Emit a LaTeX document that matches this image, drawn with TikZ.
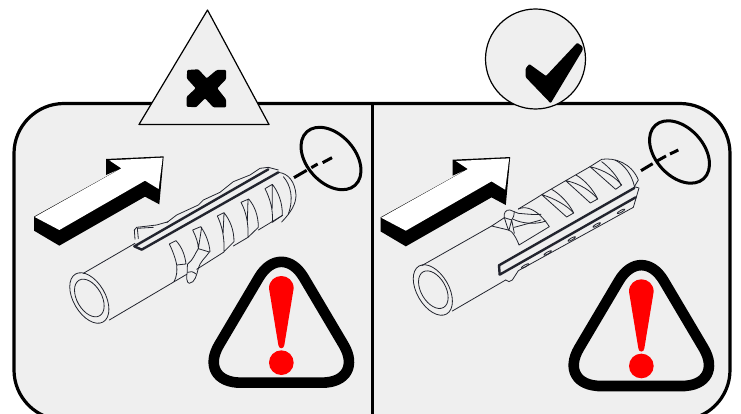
\documentclass[tikz,border=0pt]{standalone}
\definecolor{panel}{HTML}{EFEFEF}
\definecolor{ink}{HTML}{22242E}
\tikzset{
  zl/.style={shift={(20,140)},x=.33333pt,y=-.33333pt},
  zr/.style={shift={(375,120)},x=.33333pt,y=-.33333pt},
  thin ink/.style={draw=ink,line width=.8pt,line join=round,line cap=round},
  rail/.style={draw=ink,line width=2.4pt,line join=round,line cap=round},
  target/.style={draw=black,line width=3pt},
  dashpart/.style={draw=black,line width=3pt}
}
\newcommand{\warnsign}[2]{%
  \begin{scope}[shift={(#1,#2)},x=.33333pt,y=-.33333pt]
    \draw[line width=10.6pt,rounded corners=44pt,line join=round]
      (244,398) -- (-10,398) -- (244,-31) -- (498,398) -- cycle;
    \fill[red] (207,115) .. controls (207,92) and (225,78) .. (244,78)
      .. controls (263,78) and (281,92) .. (281,115)
      -- (253,285) .. controls (252,298) and (236,298) .. (235,285) -- cycle;
    \fill[red] (244,338) circle [radius=37];
  \end{scope}}
\newcommand{\bigarrow}[2]{%
  \begin{scope}[shift={(#1,#2)},x=.33333pt,y=-.33333pt]
    \fill[black] (42,230) -- (42,272) -- (118,317) -- (375,170) -- (418,193)
      -- (431,49) -- (258,57) -- (258,105) -- (303,85) -- cycle;
    \fill[white] (44,231) -- (304,85) -- (268,61) -- (428,53) -- (416,147)
      -- (375,122) -- (118,270) -- cycle;
  \end{scope}}
\begin{document}
\begin{tikzpicture}[x=1pt,y=-1pt]
\useasboundingbox (0,0) rectangle (741,414);
\begin{scope}
  \clip (0,0) rectangle (741,414);
  \draw[fill=panel,line width=3.2pt,rounded corners=50pt]
    (372,103.5) -- (730,103.5) -- (730,420) -- (14,420) -- (14,103.5) -- cycle;
  \draw[line width=3pt] (372,103.5) -- (372,414);
\end{scope}
% top symbols
\draw[fill=panel,line width=1.2pt,line join=round] (207.5,10) -- (269,124.5) -- (139,124.5) -- cycle;
\fill[rounded corners=1pt] (187.3,70) -- (198.3,69.3) -- (206.7,78.3) -- (216.7,70) -- (226,70)
  -- (226,79.3) -- (217.3,88.3) -- (226,99.3) -- (226,107.3) -- (213.3,107.3) -- (205,98.3)
  -- (196,107.3) -- (186.7,106.7) -- (186.7,96.7) -- (195.7,88.3) -- (186.7,78.3) -- cycle;
\draw[fill=panel,line width=1.2pt] (535.5,59) circle [radius=50];
\fill[rounded corners=1pt] (525.7,68.3) -- (529.3,64) -- (546,76) -- (577.3,42.7) -- (582.7,46.7)
  -- (582.7,50) -- (550.7,103.3) -- (525.7,77.3) -- cycle;
% arrows
\bigarrow{20}{140}
\bigarrow{366.5}{140.7}
% targets
\draw[target,shift={(331,158.5)},rotate=-48] (0,0) ellipse [x radius=36,y radius=24];
\draw[target,shift={(679.5,152)},rotate=-48] (0,0) ellipse [x radius=36,y radius=24];
% LEFT dowel
\begin{scope}[zl]
  \draw[dashpart] (822,113) -- (860,91) (874,83) -- (893,72) (908,68) -- (936,53);
  \draw[thin ink,shift={(208,474)},rotate=-60] (0,0) ellipse [x radius=83,y radius=48];
  \draw[thin ink,shift={(208,474)},rotate=-60] (0,0) ellipse [x radius=61.6,y radius=37];
  \draw[thin ink] (190,400) -- (345,310);
  \draw[thin ink] (268,540) -- (500,403) (530,388) -- (612,336) (640,318) -- (684,292) (715,270) -- (788,226);
  % head
  \draw[thin ink] (775,97) .. controls (805,100) and (825,125) .. (828,165)
     .. controls (828,190) and (815,215) .. (785,246);
  \draw[thin ink] (790,110) .. controls (812,135) and (822,175) .. (805,222);
  % wavy upper outline
  \draw[thin ink] (440,248) -- (470,225) -- (535,195) -- (550,180) -- (600,157) -- (640,125)
     -- (690,105) -- (720,85) -- (745,82) -- (775,90);
  % wing behind rail
  \draw[thin ink] (345,298) -- (343,270) -- (350,262) -- (410,255) -- (445,245);
  \draw[thin ink] (352,265) -- (355,296) (352,265) -- (400,262);
  % rail
  \draw[rail] (343,319) -- (745,88);
  \draw[rail] (343,319) -- (365,329) -- (775,97);
  % ribs
  \draw[thin ink] (448,312) -- (468,302) .. controls (485,320) and (495,345) .. (498,372) -- (470,375) (448,312) .. controls (458,332) and (468,360) .. (470,375) .. controls (472,395) and (470,410) .. (462,425);
  \draw[thin ink] (518,270) -- (542,260) .. controls (558,282) and (568,310) .. (570,335) (518,270) .. controls (528,290) and (535,310) .. (535,326) -- (568,336) (545,262) -- (535,326);
  \draw[thin ink] (592,228) -- (612,218) .. controls (630,240) and (642,270) .. (642,305) -- (612,335) (592,228) .. controls (605,255) and (614,290) .. (612,335) (612,220) -- (609,285);
  \draw[thin ink] (663,187) -- (686,177) .. controls (703,197) and (715,225) .. (715,262) -- (684,292) (663,187) .. controls (678,215) and (686,250) .. (684,292) (684,180) -- (682,245);
  \draw[thin ink] (735,146) -- (757,133) .. controls (775,155) and (788,190) .. (787,226) -- (757,247) (735,146) .. controls (750,175) and (760,210) .. (757,247) (757,135) -- (757,205);
  % wing tip
  \draw[thin ink] (503,372) .. controls (520,360) and (525,340) .. (535,326)
     (568,336) .. controls (555,355) and (540,365) .. (535,385) .. controls (530,405) and (525,428) .. (508,430)
     .. controls (500,430) and (498,410) .. (502,395) .. controls (503,385) and (500,378) .. (503,372);
  \draw[thin ink] (503,397) .. controls (510,392) and (520,395) .. (528,402);
\end{scope}
% RIGHT dowel
\begin{scope}[zr]
  \draw[dashpart] (798,152) -- (833,131) (846,123) -- (873,108) (885,102) -- (910,90);
  \draw[thin ink,shift={(173.5,510)},rotate=-60] (0,0) ellipse [x radius=83,y radius=48];
  \draw[thin ink,shift={(175,509)},rotate=-60] (0,0) ellipse [x radius=61.6,y radius=37];
  \draw[thin ink] (140,437) -- (350,318);
  \draw[thin ink] (232,573) -- (392,480);
  % lower outline
  \draw[thin ink] (392,480) -- (402,485) -- (412,480) -- (430,452) -- (775,262) -- (792,204) -- (778,200);
  \foreach \cx/\cy in {450/438,518/399,590/357,665/315,738/274}
    \draw[thin ink,shift={(\cx,\cy)},rotate=29] (0,0) ellipse [x radius=13,y radius=3];
  % rail
  \draw[rail] (372,436) -- (778,204);
  \draw[rail] (372,436) -- (374,464) -- (782,232);
  % head
  \draw[thin ink] (645,140) -- (680,118) .. controls (720,112) and (770,130) .. (790,180) -- (778,200);
  \draw[thin ink] (720,120) .. controls (750,135) and (770,165) .. (778,198);
  % ribs
  \draw[thin ink] (645,140) .. controls (690,150) and (725,175) .. (740,195) -- (722,208) -- (645,140);
  \draw[thin ink] (680,125) .. controls (700,140) and (725,165) .. (738,195);
  \draw[thin ink] (645,140) -- (572,182) .. controls (615,190) and (650,215) .. (668,237) -- (646,249) -- (572,182);
  \draw[thin ink] (603,165) .. controls (630,180) and (655,210) .. (668,237);
  \draw[thin ink] (572,182) -- (500,224) .. controls (540,235) and (580,260) .. (596,279) -- (575,291) -- (500,224);
  \draw[thin ink] (530,208) .. controls (555,222) and (582,250) .. (596,279);
  \draw[thin ink] (500,224) -- (483,235) -- (430,267);
  % catch
  \draw[thin ink] (430,267) .. controls (455,255) and (490,270) .. (523,320) -- (432,375) .. controls (425,355) and (410,330) .. (400,330) -- (350,318) (350,318) -- (388,293);
  \draw[thin ink] (388,293) .. controls (385,280) and (392,268) .. (405,270) -- (430,280) .. controls (455,282) and (480,285) .. (498,283)
     (415,298) .. controls (440,310) and (480,315) .. (513,303);
  \draw[thin ink] (388,293) -- (410,300) .. controls (416,290) and (418,285) .. (418,275);
  \draw[thin ink] (388,293) -- (400,330) (410,300) -- (402,330) (410,300) -- (418,340) (418,322) -- (498,300);
\end{scope}
% warnings
\warnsign{200}{250}
\warnsign{560}{253.3}
\end{tikzpicture}
\end{document}
